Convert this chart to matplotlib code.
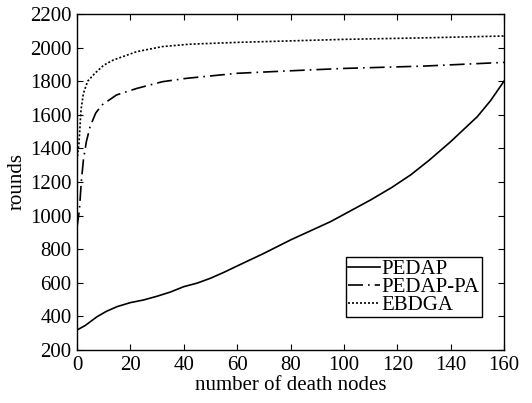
import matplotlib
matplotlib.use('Agg')
import matplotlib.pyplot as plt
import numpy as np

plt.rcParams['font.family'] = ['Liberation Serif', 'DejaVu Serif']

x_pedap = [0, 3, 7.5, 11, 15, 20, 25, 30, 35, 40, 45, 50, 55, 60, 70, 80, 95, 110, 118, 125, 132, 140, 150, 155, 160]
y_pedap = [319, 345, 398, 430, 458, 482, 498, 520, 545, 577, 598, 627, 662, 700, 775, 855, 964, 1093, 1168, 1242, 1330, 1440, 1589, 1685, 1800]

x_pa = [0, 0.9, 1.6, 2.4, 3.5, 4.9, 7, 9.3, 14.8, 22.4, 32, 41, 60, 80, 100, 130, 160]
y_pa = [930, 1033, 1200, 1331, 1440, 1529, 1610, 1658, 1718, 1757, 1797, 1817, 1847, 1862, 1876, 1890, 1912]

x_eb = [0, 0.75, 1.5, 2.4, 4, 6.7, 10, 13.6, 22.4, 32, 42, 60, 100, 130, 160]
y_eb = [1330, 1432, 1629, 1728, 1800, 1847, 1895, 1926, 1976, 2006, 2020, 2031, 2049, 2058, 2069]


def plot_rounds():
  fig = plt.figure(figsize=(5.32, 4.03), dpi=100)
  ax = fig.add_axes([77/532, 1-350/403, (504-77)/532, (350-14)/403])
  ax.plot(x_pedap, y_pedap, color='black', lw=1.2, ls='-', label='PEDAP')
  ax.plot(x_pa, y_pa, color='black', lw=1.2, ls=(0, (9, 3, 1, 3)), label='PEDAP-PA')
  ax.plot(x_eb, y_eb, color='black', lw=1.2, ls=(0, (1.2, 1.2)), label='EBDGA')
  ax.set_xlim(0, 160)
  ax.set_ylim(200, 2200)
  ax.set_xticks(np.arange(0, 161, 20))
  ax.set_yticks(np.arange(200, 2201, 200))
  ax.tick_params(direction='in', top=True, right=True, labelsize=15, length=4, pad=4)
  for s in ax.spines.values():
    s.set_linewidth(1.0)
  ax.set_xlabel('number of death nodes', fontsize=15, labelpad=1)
  ax.set_ylabel('rounds', fontsize=15, labelpad=2)
  leg = ax.legend(loc='lower right', bbox_to_anchor=(0.948, 0.098), fontsize=15,
                  handlelength=1.5, handletextpad=0.1, borderpad=0.1, labelspacing=-0.08,
                  fancybox=False, framealpha=1, edgecolor='black', borderaxespad=0)
  leg.get_frame().set_linewidth(1.0)
  fig.savefig('out.png', dpi=100)

if __name__ == '__main__':
  plot_rounds()
